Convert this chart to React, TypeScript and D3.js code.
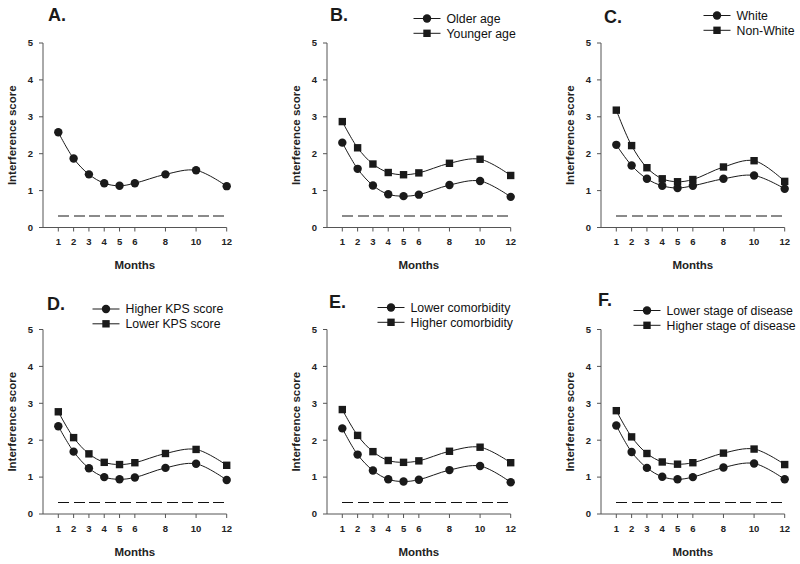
import React from "react";
import * as d3 from "d3";

const months = [1, 2, 3, 4, 5, 6, 8, 10, 12];
const yTicks = [0, 1, 2, 3, 4, 5];
const referenceLevel = 0.3;

const panelTitles = ["A.", "B.", "C.", "D.", "E.", "F."];

const aAll = [2.58, 1.87, 1.44, 1.2, 1.13, 1.2, 1.44, 1.55, 1.12];

const bOlder = [2.3, 1.59, 1.14, 0.9, 0.85, 0.89, 1.15, 1.26, 0.83];
const bYounger = [2.87, 2.16, 1.72, 1.49, 1.43, 1.48, 1.74, 1.85, 1.41];

const cWhite = [2.24, 1.68, 1.32, 1.13, 1.07, 1.13, 1.32, 1.41, 1.05];
const cNonWhite = [3.18, 2.22, 1.62, 1.32, 1.24, 1.3, 1.64, 1.81, 1.25];

const dHigherKps = [2.38, 1.69, 1.24, 1.0, 0.94, 0.99, 1.25, 1.36, 0.92];
const dLowerKps = [2.77, 2.07, 1.63, 1.4, 1.34, 1.39, 1.64, 1.75, 1.32];

const eLowerComorb = [2.32, 1.61, 1.18, 0.94, 0.88, 0.93, 1.19, 1.3, 0.86];
const eHigherComorb = [2.83, 2.13, 1.69, 1.45, 1.4, 1.44, 1.7, 1.81, 1.39];

const fLowerStage = [2.4, 1.68, 1.25, 1.01, 0.94, 1.0, 1.26, 1.37, 0.94];
const fHigherStage = [2.8, 2.09, 1.64, 1.41, 1.35, 1.39, 1.65, 1.76, 1.34];

type Series = { name: string; values: number[]; marker: "circle" | "square" };

const panelSeries: Series[][] = [
  [{ name: "", values: aAll, marker: "circle" }],
  [
    { name: "Older age", values: bOlder, marker: "circle" },
    { name: "Younger age", values: bYounger, marker: "square" },
  ],
  [
    { name: "White", values: cWhite, marker: "circle" },
    { name: "Non-White", values: cNonWhite, marker: "square" },
  ],
  [
    { name: "Higher KPS score", values: dHigherKps, marker: "circle" },
    { name: "Lower KPS score", values: dLowerKps, marker: "square" },
  ],
  [
    { name: "Lower comorbidity", values: eLowerComorb, marker: "circle" },
    { name: "Higher comorbidity", values: eHigherComorb, marker: "square" },
  ],
  [
    { name: "Lower stage of disease", values: fLowerStage, marker: "circle" },
    { name: "Higher stage of disease", values: fHigherStage, marker: "square" },
  ],
];

// layout
const colX = [43, 327, 601];
const rowTop = [43, 329.5];
const rowBottom = [227.5, 514];
const plotW = 183.7;
const titlePos = [
  [48, 21],
  [330, 21],
  [604, 23],
  [47, 310],
  [329, 308],
  [598, 306],
];
const legendPos = [
  null,
  [427, 18.5],
  [717, 15.5],
  [106, 309],
  [391, 307.5],
  [647, 310.5],
];

const FONT = "'Liberation Sans', Arial, Helvetica, sans-serif";
const INK = "#1a1a1a";

function Marker({ type, x, y }: { type: string; x: number; y: number }) {
  if (type === "circle") return <circle cx={x} cy={y} r={4.2} fill={INK} />;
  return <rect x={x - 3.7} y={y - 3.7} width={7.4} height={7.4} fill={INK} />;
}

function Panel({ idx }: { idx: number }) {
  const col = idx % 3;
  const row = Math.floor(idx / 3);
  const x0 = colX[col];
  const top = rowTop[row];
  const bottom = rowBottom[row];
  const x = d3.scaleLinear().domain([0, 12]).range([x0, x0 + plotW]);
  const y = d3.scaleLinear().domain([0, 5]).range([bottom, top]);
  const line = d3
    .line<[number, number]>()
    .x((d) => x(d[0]))
    .y((d) => y(d[1]))
    .curve(d3.curveCatmullRom.alpha(0.5));
  const series = panelSeries[idx];
  const lp = legendPos[idx];
  const dashColor = row === 0 ? "#8a8a8a" : "#111";
  const dashW = row === 0 ? 2 : 1;
  return (
    <g>
      <text x={titlePos[idx][0]} y={titlePos[idx][1]} fontSize={18} fontWeight="bold" fill={INK}>
        {panelTitles[idx]}
      </text>
      {/* axes */}
      <line x1={x0} x2={x0} y1={top} y2={bottom} stroke="#555" strokeWidth={1} />
      <line x1={x0} x2={x(12)} y1={bottom} y2={bottom} stroke="#555" strokeWidth={1} />
      {yTicks.map((t) => (
        <g key={"y" + t}>
          <line x1={x0 - 4} x2={x0} y1={y(t)} y2={y(t)} stroke="#555" />
          <text x={x0 - 10} y={y(t) + 3.3} fontSize={9.5} fontWeight="bold" textAnchor="end" fill="#222">
            {t}
          </text>
        </g>
      ))}
      {months.map((m) => (
        <g key={"x" + m}>
          <line x1={x(m)} x2={x(m)} y1={bottom} y2={bottom + 4} stroke="#555" />
          <text x={x(m)} y={bottom + 17.5} fontSize={9.5} fontWeight="bold" textAnchor="middle" fill="#222">
            {m}
          </text>
        </g>
      ))}
      <text
        transform={`translate(${x0 - 27},${(top + bottom) / 2}) rotate(-90)`}
        fontSize={11.5}
        fontWeight="bold"
        textAnchor="middle"
        fill="#222"
      >
        Interference score
      </text>
      <text x={x0 + plotW / 2} y={bottom + 41.5} fontSize={11.5} fontWeight="bold" textAnchor="middle" fill="#222">
        Months
      </text>
      {/* reference dashed line */}
      <line
        x1={x(months[0])}
        x2={x(months[months.length - 1])}
        y1={y(referenceLevel)}
        y2={y(referenceLevel)}
        stroke={dashColor}
        strokeWidth={dashW}
        strokeDasharray="11 4.5"
        shapeRendering="crispEdges"
      />
      {series.map((s, si) => (
        <g key={si}>
          <path
            d={line(months.map((m, i) => [m, s.values[i]] as [number, number])) || ""}
            fill="none"
            stroke={INK}
            strokeWidth={1}
          />
          {months.map((m, i) => (
            <Marker key={i} type={s.marker} x={x(m)} y={y(s.values[i])} />
          ))}
        </g>
      ))}
      {lp &&
        series.map((s, si) => (
          <g key={"lg" + si}>
            <line x1={lp[0] - 13.5} x2={lp[0] + 13.5} y1={lp[1] + si * 14.8} y2={lp[1] + si * 14.8} stroke={INK} />
            <Marker type={s.marker} x={lp[0]} y={lp[1] + si * 14.8} />
            <text x={lp[0] + 19.5} y={lp[1] + si * 14.8 + 4.4} fontSize={12.3} fill="#111">
              {s.name}
            </text>
          </g>
        ))}
    </g>
  );
}

export default function App() {
  return (
    <svg
      width={800}
      height={564}
      style={{ position: "absolute", left: 0, top: 0, background: "#fff" }}
      fontFamily={FONT}
    >
      <rect width={800} height={564} fill="#fff" />
      {panelTitles.map((_, i) => (
        <Panel key={i} idx={i} />
      ))}
    </svg>
  );
}
